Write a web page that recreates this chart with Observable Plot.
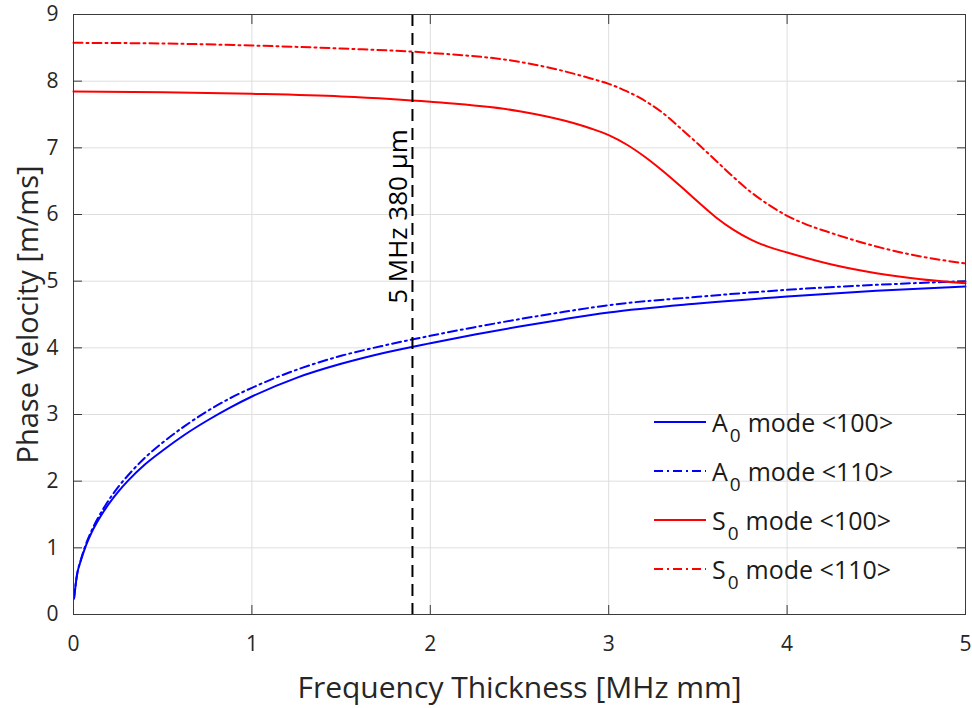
<!DOCTYPE html>
<html>
<head>
<meta charset="utf-8">
<script src="https://cdn.jsdelivr.net/npm/d3@7"></script>
<script src="https://cdn.jsdelivr.net/npm/@observablehq/plot@0.6"></script>
<style>
  html, body { margin: 0; padding: 0; background: #fff; }
  #wrap { position: relative; width: 972px; height: 708px; font-family: "Open Sans", sans-serif; }
  #legend { position: absolute; left: 0; top: 0; color: #1a1a1a; font-size: 25px; }
  .row { position: absolute; left: 654px; height: 30px; white-space: nowrap; }
  .row svg { position: absolute; left: 0; top: 0; }
  .row .lab { position: absolute; left: 58px; top: 0; line-height: 30px; }
  .row sub { font-size: 19px; position: relative; top: 10px; vertical-align: baseline; margin-left: 2px; margin-right: 7px; }
</style>
</head>
<body>
<div id="wrap"></div>
<script>
// ---- data ----
const xTicks = [0, 1, 2, 3, 4, 5];
const yTicks = [0, 1, 2, 3, 4, 5, 6, 7, 8, 9];

const xA = [0.003, 0.02, 0.04, 0.065, 0.1, 0.175, 0.25, 0.31, 0.4, 0.5, 0.625, 0.75, 0.875, 1.0, 1.25, 1.5, 1.75, 2.0, 2.25, 2.5, 2.75, 3.0, 3.5, 4.0, 4.5, 5.0];
const a0_100 = [0.24, 0.6, 0.8, 1.0, 1.22, 1.57, 1.84, 2.02, 2.25, 2.46, 2.7, 2.91, 3.1, 3.27, 3.55, 3.76, 3.93, 4.07, 4.2, 4.32, 4.43, 4.53, 4.665, 4.77, 4.855, 4.92];
const a0_110 = [0.24, 0.6, 0.81, 1.02, 1.25, 1.62, 1.91, 2.1, 2.35, 2.58, 2.83, 3.05, 3.24, 3.40, 3.67, 3.88, 4.04, 4.18, 4.31, 4.43, 4.54, 4.64, 4.765, 4.87, 4.945, 5.0];

const xS100 = [0, 0.5, 1.0, 1.5, 2.0, 2.5, 2.75, 2.9, 3.0, 3.1, 3.2, 3.3, 3.4, 3.5, 3.6, 3.7, 3.8, 3.9, 4.0, 4.25, 4.5, 4.75, 5.0];
const s0_100 = [7.845, 7.835, 7.81, 7.77, 7.69, 7.55, 7.41, 7.29, 7.19, 7.05, 6.87, 6.66, 6.43, 6.19, 5.96, 5.77, 5.62, 5.51, 5.43, 5.25, 5.12, 5.03, 4.97];

const xS110 = [0, 0.5, 1.0, 1.5, 2.0, 2.5, 2.75, 2.9, 3.0, 3.1, 3.2, 3.3, 3.4, 3.5, 3.6, 3.7, 3.8, 3.9, 4.0, 4.1, 4.25, 4.5, 4.75, 5.0];
const s0_110 = [8.575, 8.565, 8.535, 8.49, 8.425, 8.29, 8.15, 8.04, 7.96, 7.85, 7.71, 7.53, 7.3, 7.06, 6.81, 6.56, 6.33, 6.14, 5.98, 5.86, 5.72, 5.52, 5.37, 5.265];

const markerX = [1.9];
const markerLabel = ["5 MHz 380\u00a0\u00b5m"];
const markerLabelY = [5.97];

const seriesNames = ["A0 mode <100>", "A0 mode <110>", "S0 mode <100>", "S0 mode <110>"];
const legendMain = ["A", "A", "S", "S"];
const legendSub = ["0", "0", "0", "0"];
const legendRest = ["mode <100>", "mode <110>", "mode <100>", "mode <110>"];
const seriesColors = ["#0000ff", "#0000ff", "#ff0000", "#ff0000"];
const seriesDash = [null, "9,4,2,4", null, "9,4,2,4"];

const xLabel = "Frequency Thickness [MHz mm]";
const yLabel = "Phase Velocity [m/ms]";

// ---- build rows ----
const rowsA100 = xA.map((x, i) => ({x, y: a0_100[i]}));
const rowsA110 = xA.map((x, i) => ({x, y: a0_110[i]}));
const rowsS100 = xS100.map((x, i) => ({x, y: s0_100[i]}));
const rowsS110 = xS110.map((x, i) => ({x, y: s0_110[i]}));
const seriesRows = [rowsA100, rowsA110, rowsS100, rowsS110];

const axisColor = "#262626";
const font = "Open Sans, sans-serif";

const chart = Plot.plot({
  width: 972,
  height: 708,
  marginLeft: 73,
  marginRight: 7,
  marginTop: 14,
  marginBottom: 94,
  style: {fontFamily: font, fontSize: "21px", color: axisColor, background: "#fff"},
  x: {domain: [0, 5]},
  y: {domain: [0, 9]},
  marks: [
    Plot.gridX(xTicks, {stroke: "#dedede", strokeOpacity: 1}),
    Plot.gridY(yTicks, {stroke: "#dedede", strokeOpacity: 1}),
    ...seriesRows.map((rows, i) => Plot.line(rows, {
      x: "x", y: "y", stroke: seriesColors[i], strokeWidth: 2,
      strokeDasharray: seriesDash[i], curve: "monotone-x"
    })),
    Plot.ruleX(markerX, {x: d => d, stroke: "#000", strokeWidth: 2, strokeDasharray: "12,7"}),
    Plot.text(markerX, {x: d => d, y: (d, i) => markerLabelY[i], text: (d, i) => markerLabel[i],
      rotate: -90, dx: -14, fontSize: 26, fill: "#000", textAnchor: "middle", lineAnchor: "middle"}),
    Plot.frame({stroke: "#3a3a3a", strokeWidth: 1}),
    Plot.axisX({ticks: xTicks, tickSize: -9, tickPadding: 31, stroke: "#3a3a3a", tickFormat: d => String(d), fontSize: 21, label: null}),
    Plot.axisX({anchor: "top", ticks: xTicks, tickSize: -9, stroke: "#3a3a3a", tickFormat: () => "", label: null}),
    Plot.axisY({ticks: yTicks, tickSize: -9, tickPadding: 24, stroke: "#3a3a3a", tickFormat: d => String(d), fontSize: 21, label: null}),
    Plot.axisY({anchor: "right", ticks: yTicks, tickSize: -9, stroke: "#3a3a3a", tickFormat: () => "", label: null}),
    Plot.text([xLabel], {frameAnchor: "bottom", dy: 74, text: d => d, fontSize: 30, fill: axisColor, textAnchor: "middle", lineAnchor: "middle"}),
    Plot.text([yLabel], {frameAnchor: "left", dx: -45, rotate: -90, text: d => d, fontSize: 29, fill: axisColor, textAnchor: "middle", lineAnchor: "middle"})
  ]
});

const wrap = document.getElementById("wrap");
wrap.appendChild(chart);

// ---- legend ----
const legend = document.createElement("div");
legend.id = "legend";
const rowCenters = [422, 471, 520, 569];
seriesNames.forEach((name, i) => {
  const row = document.createElement("div");
  row.className = "row";
  row.style.top = (rowCenters[i] - 15) + "px";
  const dash = seriesDash[i] ? `stroke-dasharray="${seriesDash[i]}"` : "";
  row.innerHTML = `<svg width="54" height="30"><line x1="0" y1="15" x2="52" y2="15" stroke="${seriesColors[i]}" stroke-width="2" ${dash}/></svg>` +
    `<span class="lab">${legendMain[i]}<sub>${legendSub[i]}</sub>${legendRest[i].replace(/</g, "&lt;").replace(/>/g, "&gt;")}</span>`;
  legend.appendChild(row);
});
wrap.appendChild(legend);
</script>
</body>
</html>
